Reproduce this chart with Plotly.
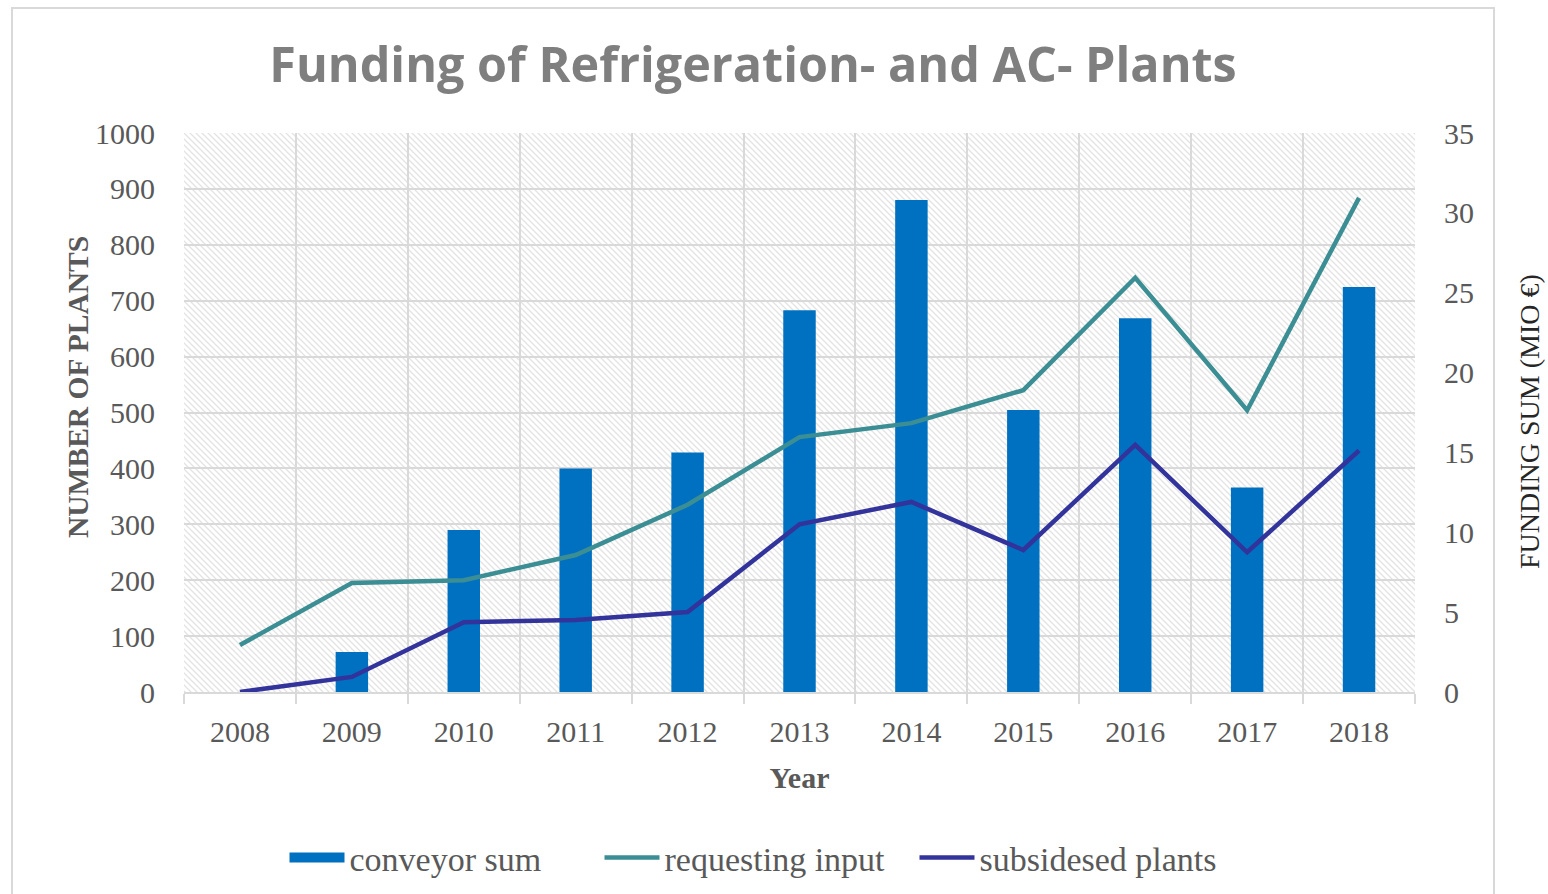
import base64
import plotly.graph_objects as go

# ---- data ----
years = ["2008", "2009", "2010", "2011", "2012", "2013", "2014", "2015", "2016", "2017", "2018"]
conveyor_sum = [None, 2.5, 10.15, 14.0, 15.0, 23.9, 30.8, 17.65, 23.4, 12.8, 25.35]   # MIO EUR (right axis)
requesting_input = [84, 195, 200, 245, 335, 456, 481, 540, 741, 504, 884]            # plants (left axis)
subsidesed_plants = [0, 27, 125, 129, 143, 300, 340, 254, 442, 250, 432]              # plants (left axis)

left_ticks = list(range(0, 1001, 100))
right_ticks = list(range(0, 36, 5))

# ---- layout geometry ----
W, H = 1548, 894
L, R, T, B = 184, 133, 133, 202
PW, PH = W - L - R, H - T - B

serif = "Liberation Serif"
txt = "#595959"
grid = "#d9d9d9"
bar_color = "#0070C0"

# hatched plot background (decorative)
svg = f'''<svg xmlns="http://www.w3.org/2000/svg" width="{PW}" height="{PH}" viewBox="0 0 {PW} {PH}" preserveAspectRatio="none">
<defs><pattern id="h" width="6" height="6" patternUnits="userSpaceOnUse">
<path d="M0,0 L6,6 M-3,3 L3,9 M3,-3 L9,3" stroke="#e3e3e3" stroke-width="1.3"/></pattern></defs>
<rect width="100%" height="100%" fill="white"/><rect width="100%" height="100%" fill="url(#h)"/></svg>'''
bg_src = "data:image/svg+xml;base64," + base64.b64encode(svg.encode()).decode()

fig = go.Figure()
fig.add_trace(go.Bar(
    x=years, y=conveyor_sum, name="conveyor sum", yaxis="y",
    marker=dict(color=bar_color, line=dict(width=0)), width=0.29,
    legendgroup="cs", showlegend=False,
))
# legend key for the bars (wide rectangle like the original)
fig.add_trace(go.Scatter(
    x=[None], y=[None], name="conveyor sum", yaxis="y", mode="lines",
    line=dict(color=bar_color, width=20), legendgroup="cs", showlegend=True,
))
fig.add_trace(go.Scatter(
    x=years, y=requesting_input, name="requesting input", yaxis="y2",
    mode="lines", line=dict(color="#3B8E93", width=4.5),
))
fig.add_trace(go.Scatter(
    x=years, y=subsidesed_plants, name="subsidesed plants", yaxis="y2",
    mode="lines", line=dict(color="#33339C", width=4.5),
))

fig.update_layout(
    width=W, height=H,
    margin=dict(l=L, r=R, t=T, b=B, autoexpand=False),
    paper_bgcolor="white", plot_bgcolor="rgba(0,0,0,0)",
    title=dict(
        text="<b>Funding of Refrigeration- and AC- Plants</b>",
        font=dict(family="Open Sans", size=48.5, color="#7f7f7f"),
        x=753 / W, xanchor="center", y=1 - 65 / H, yanchor="middle",
        xref="container", yref="container",
    ),
    xaxis=dict(
        type="category", tickson="boundaries",
        showgrid=True, gridcolor=grid, gridwidth=2,
        ticks="outside", ticklen=10, tickcolor=grid, tickwidth=2,
        showline=True, linecolor=grid, linewidth=2,
        tickfont=dict(family=serif, size=30, color=txt), ticklabelstandoff=12,
        title=dict(text="<b>Year</b>", font=dict(family=serif, size=30, color=txt), standoff=20),
        range=[-0.5, 10.5],
    ),
    yaxis=dict(
        side="right", range=[0, 35], tickvals=right_ticks,
        showgrid=False, zeroline=False, showline=False,
        tickfont=dict(family=serif, size=30, color=txt), ticklabelstandoff=28,
    ),
    yaxis2=dict(
        side="left", overlaying="y", range=[0, 1000], tickvals=left_ticks,
        showgrid=True, gridcolor=grid, gridwidth=2, zeroline=False,
        showline=False,
        tickfont=dict(family=serif, size=30, color=txt), ticklabelstandoff=28,
    ),
    annotations=[
        dict(text="<b>NUMBER OF PLANTS</b>", textangle=-90, xref="paper", yref="paper",
             x=(78 - L) / PW, y=(T + PH - 387) / PH, xanchor="center", yanchor="middle",
             showarrow=False, font=dict(family=serif, size=29.5, color=txt)),
        dict(text="FUNDING SUM (MIO €)", textangle=-90, xref="paper", yref="paper",
             x=(1530 - L) / PW, y=(T + PH - 422) / PH, xanchor="center", yanchor="middle",
             showarrow=False, font=dict(family=serif, size=28, color="#262626")),
    ],
    legend=dict(
        orientation="h", x=(757 - L) / PW, xanchor="center",
        y=(T + PH - 858) / PH, yanchor="middle",
        font=dict(family=serif, size=34, color=txt), bgcolor="rgba(0,0,0,0)",
        itemwidth=55, entrywidth=245, entrywidthmode="pixels",
    ),
    showlegend=True,
    images=[dict(
        source=bg_src, xref="paper", yref="paper", x=0, y=1, sizex=1, sizey=1,
        xanchor="left", yanchor="top", sizing="stretch", layer="below",
    )],
    shapes=[dict(
        type="rect", xref="paper", yref="paper",
        x0=(12 - L) / PW, x1=(1494 - L) / PW, y0=-0.38, y1=(T + PH - 8) / PH,
        line=dict(color="#d9d9d9", width=2), fillcolor="rgba(0,0,0,0)", layer="below",
    )],
)
fig.write_html(
    "out.html",
    config={"displayModeBar": False},
    post_script="document.body.style.margin='0';document.body.style.overflow='hidden';",
)
